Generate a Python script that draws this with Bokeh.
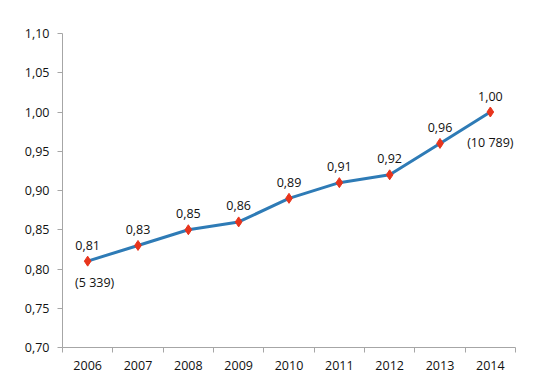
from bokeh.plotting import figure
from bokeh.models import ColumnDataSource, FixedTicker, CustomJSTickFormatter, Range1d
from bokeh.core.properties import value
from bokeh.embed import file_html
from bokeh.resources import INLINE

years = ["2006", "2007", "2008", "2009", "2010", "2011", "2012", "2013", "2014"]
values = [0.81, 0.83, 0.85, 0.86, 0.89, 0.91, 0.92, 0.96, 1.00]
value_labels = ["0,81", "0,83", "0,85", "0,86", "0,89", "0,91", "0,92", "0,96", "1,00"]
note_years = ["2006", "2014"]
note_texts = ["(5 339)", "(10 789)"]
y_ticks = [0.70, 0.75, 0.80, 0.85, 0.90, 0.95, 1.00, 1.05, 1.10]

FONT = "Open Sans"
TXT = "#111111"
FS = "12.5px"

xs = [i + 1 for i in range(len(years))]
src = ColumnDataSource(dict(x=xs, y=values, lab=value_labels))

p = figure(width=532, height=383, output_backend="svg", toolbar_location=None,
           x_range=Range1d(0.5, len(years) + 0.5), y_range=Range1d(0.70, 1.10),
           min_border_left=62, min_border_right=17, min_border_top=33, min_border_bottom=36)
p.outline_line_color = None
p.xgrid.grid_line_color = None
p.ygrid.grid_line_color = None

p.line("x", "y", source=src, line_color="#2e7bb6", line_width=3)
p.scatter("x", "y", source=src, marker="diamond", size=10, fill_color="#e8341c", line_color="#e8341c")
p.text("x", "y", text="lab", source=src, text_font=value(FONT), text_font_size=FS,
       text_color=TXT, text_align="center", text_baseline="middle", y_offset=-16)

note_x = [years.index(y) + 1 for y in note_years]
note_y = [values[years.index(y)] for y in note_years]
p.text(note_x[:1], note_y[:1], text=note_texts[:1], text_font=value(FONT), text_font_size=FS,
       text_color=TXT, text_align="center", text_baseline="middle", x_offset=7, y_offset=21)
p.text(note_x[1:], note_y[1:], text=note_texts[1:], text_font=value(FONT), text_font_size=FS,
       text_color=TXT, text_align="center", text_baseline="middle", y_offset=30)

# x axis: labels at centres, ticks at category boundaries (minor ticks)
p.xaxis.ticker = FixedTicker(ticks=xs, minor_ticks=[i + 0.5 for i in range(len(years) + 1)])
p.xaxis.major_label_overrides = {x: y for x, y in zip(xs, years)}
p.xaxis.major_tick_line_color = None
p.xaxis.major_tick_out = 0
p.xaxis.major_tick_in = 0
p.xaxis.minor_tick_line_color = "#a6a6a6"
p.xaxis.minor_tick_out = 5
p.xaxis.minor_tick_in = 0
p.xaxis.axis_line_color = "#a6a6a6"
p.xaxis.major_label_standoff = 8

p.yaxis.ticker = FixedTicker(ticks=y_ticks)
p.yaxis.formatter = CustomJSTickFormatter(code="return tick.toFixed(2).replace('.', ',');")
p.yaxis.major_tick_out = 5
p.yaxis.major_tick_in = 0
p.yaxis.minor_tick_line_color = None
p.yaxis.major_tick_line_color = "#a6a6a6"
p.yaxis.axis_line_color = "#a6a6a6"
p.yaxis.major_label_standoff = 8

for ax in (p.xaxis, p.yaxis):
    ax.major_label_text_font = FONT
    ax.major_label_text_font_size = FS
    ax.major_label_text_color = TXT

open("out.html", "w").write(file_html(p, INLINE))
